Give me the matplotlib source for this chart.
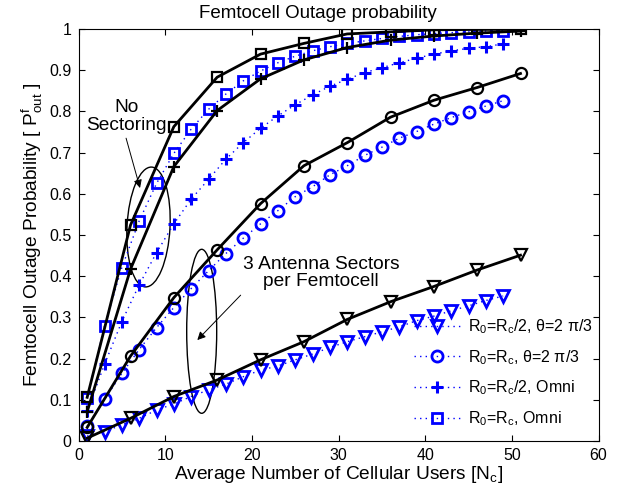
import matplotlib
matplotlib.use('Agg')
import matplotlib.pyplot as plt
from matplotlib.patches import Ellipse

plt.rcParams['font.family'] = ['Liberation Sans', 'DejaVu Sans']
plt.rcParams['mathtext.fontset'] = 'custom'
plt.rcParams['mathtext.rm'] = 'Liberation Sans'
plt.rcParams['mathtext.it'] = 'Liberation Sans'

# simulation points (blue) every 2 users, analysis (black) every 5 users
x_sim = list(range(1, 50, 2))
x_ana = list(range(1, 52, 5))

sim_tri = [0.012, 0.023, 0.039, 0.055, 0.075, 0.090, 0.108, 0.124, 0.138, 0.156,
           0.172, 0.182, 0.197, 0.211, 0.227, 0.241, 0.253, 0.265, 0.277, 0.292,
           0.303, 0.316, 0.328, 0.341, 0.352]
sim_circ = [0.036, 0.101, 0.164, 0.222, 0.275, 0.324, 0.370, 0.413, 0.455, 0.492,
            0.527, 0.559, 0.593, 0.617, 0.646, 0.668, 0.693, 0.713, 0.735, 0.751,
            0.769, 0.785, 0.799, 0.813, 0.826]
sim_plus = [0.072, 0.186, 0.290, 0.379, 0.457, 0.527, 0.587, 0.635, 0.684, 0.724,
            0.759, 0.789, 0.816, 0.840, 0.861, 0.878, 0.894, 0.906, 0.918, 0.929,
            0.939, 0.947, 0.953, 0.957, 0.964]
sim_sq = [0.105, 0.279, 0.421, 0.534, 0.625, 0.698, 0.757, 0.805, 0.842, 0.874,
          0.898, 0.918, 0.934, 0.947, 0.957, 0.965, 0.971, 0.977, 0.982, 0.986,
          0.989, 0.991, 0.993, 0.995, 0.996]

ana_tri = [0.007, 0.055, 0.108, 0.148, 0.197, 0.241, 0.295, 0.338, 0.375, 0.415, 0.451]
ana_circ = [0.033, 0.206, 0.348, 0.464, 0.576, 0.668, 0.724, 0.786, 0.827, 0.858, 0.892]
ana_plus = [0.071, 0.417, 0.666, 0.802, 0.879, 0.925, 0.955, 0.973, 0.983, 0.990, 0.995]
ana_sq = [0.106, 0.524, 0.763, 0.883, 0.939, 0.965, 0.988, 0.993, 0.998, 0.999, 0.999]

labels = [r'R$_0$=R$_{c}$/2, θ=2 π/3',
          r'R$_0$=R$_{c}$, θ=2 π/3',
          r'R$_0$=R$_{c}$/2, Omni',
          r'R$_0$=R$_{c}$, Omni']

fig = plt.figure(figsize=(6.25, 4.91), dpi=100)
ax = fig.add_axes([78.5 / 625, 50 / 491, 520 / 625, 412 / 491])

blue = (0, 0, 1)
sim_sets = [(sim_tri, 'v', 9), (sim_circ, 'o', 8), (sim_plus, '+', 8), (sim_sq, 's', 7)]
for (vals, mk, ms), lab in zip(sim_sets, labels):
    if mk == '+':
        ax.plot(x_sim, vals, linestyle=(0, (1, 3)), lw=1.0, color=blue, marker='+',
                ms=8, mew=2.2, label=lab)
    else:
        ax.plot(x_sim, vals, linestyle=(0, (1, 3)), lw=1.0, color=blue, marker=mk,
                ms=ms, mew=2.0, mfc='none', mec=blue, label=lab)

ana_sets = [(ana_tri, 'v', 9), (ana_circ, 'o', 8), (ana_plus, '+', 8), (ana_sq, 's', 7)]
for vals, mk, ms in ana_sets:
    ax.plot(x_ana, vals, '-', lw=2.0, color='k', marker=mk, ms=ms, mew=1.6,
            mfc='none', mec='k')

ax.set_xlim(0, 60)
ax.set_ylim(0, 1)
ax.set_xticks(range(0, 61, 10))
ax.set_yticks([i / 10 for i in range(11)])
ax.set_yticklabels(['0'] + ['0.%d' % i for i in range(1, 10)] + ['1'])
ax.tick_params(direction='in', top=True, right=True, length=4, width=0.8,
               labelsize=11.5, pad=5)
for s in ax.spines.values():
    s.set_linewidth(0.8)

ax.set_title('Femtocell Outage probability', fontsize=13.5, pad=8, x=0.461)
ax.set_xlabel(r'Average Number of Cellular Users [N$_{c}$]', fontsize=13.8, labelpad=1)
ax.set_ylabel(r'Femtocell Outage Probability [ P$^{f}_{out}$ ]', fontsize=13.8, labelpad=3)

ax.legend(loc='upper left', bbox_to_anchor=(0.645, 0.300), frameon=False,
          fontsize=11.5, handlelength=2.9, handletextpad=0.5, labelspacing=0.75,
          borderpad=0, borderaxespad=0)

# annotations
ax.text(5.56, 0.788, 'No\nSectoring', fontsize=13.8, ha='center', va='center',
        linespacing=1.1)
ax.text(28.0, 0.408, '3 Antenna Sectors\nper Femtocell', fontsize=13.8, ha='center',
        va='center', linespacing=1.05)
ax.annotate('', xy=(7.10, 0.614), xytext=(5.49, 0.735),
            arrowprops=dict(arrowstyle='-|>', lw=0.7, color='k', mutation_scale=12,
                            shrinkA=0, shrinkB=0))
ax.annotate('', xy=(13.71, 0.245), xytext=(18.71, 0.354),
            arrowprops=dict(arrowstyle='-|>', lw=0.7, color='k', mutation_scale=12,
                            shrinkA=0, shrinkB=0))
ax.add_patch(Ellipse((1.485, 2.64), 0.43, 1.20, angle=-3, fill=False, lw=1.0,
                     ec='k', transform=fig.dpi_scale_trans))
ax.add_patch(Ellipse((2.017, 1.597), 0.30, 1.64, angle=0, fill=False, lw=1.0,
                     ec='k', transform=fig.dpi_scale_trans))

fig.savefig('out.png', dpi=100)
